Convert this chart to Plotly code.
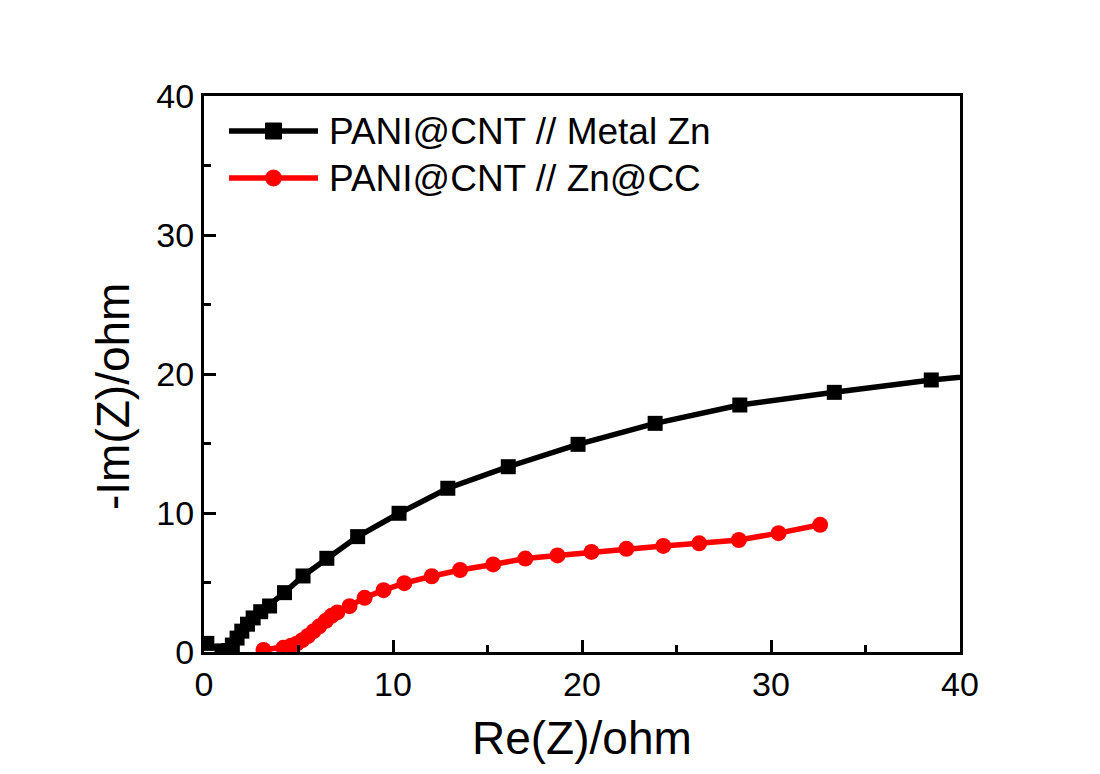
import plotly.graph_objects as go

# ---- data ----
black_name = "PANI@CNT // Metal Zn"
black_x = [0.15, 0.95, 1.3, 1.5, 1.75, 2.0, 2.3, 2.6, 3.0, 3.47, 4.26, 5.24, 6.5, 8.13, 10.32,
           12.9, 16.1, 19.79, 23.87, 28.35, 33.35, 38.48, 43.5]
black_y = [0.62, 0.08, 0.1, 0.5, 1.0, 1.5, 2.0, 2.45, 2.9, 3.31, 4.27, 5.47, 6.74, 8.3, 9.98,
           11.78, 13.33, 14.94, 16.45, 17.77, 18.68, 19.57, 20.2]

red_name = "PANI@CNT // Zn@CC"
red_x = [3.15, 4.2, 4.6, 4.9, 5.2, 5.5, 5.8, 6.1, 6.45, 6.75, 7.05, 7.7, 8.5, 9.5, 10.6,
         12.05, 13.55, 15.3, 17.0, 18.7, 20.5, 22.35, 24.3, 26.2, 28.3, 30.4, 32.6]
red_y = [0.15, 0.3, 0.45, 0.6, 0.85, 1.15, 1.5, 1.85, 2.25, 2.6, 2.85, 3.3, 3.9, 4.45, 4.95,
         5.45, 5.9, 6.3, 6.72, 6.95, 7.2, 7.42, 7.63, 7.82, 8.06, 8.55, 9.15]

x_title = "Re(Z)/ohm"
y_title = "-Im(Z)/ohm"

FONT = "Arial, Liberation Sans, sans-serif"
W, H = 1100, 774
OFF = 8  # page body margin
L, R, T, B = 204 - OFF, 140 + OFF, 96 - OFF, 122 + OFF
PW, PH = W - L - R, H - T - B
LW = 5.5

fig = go.Figure()
fig.add_trace(go.Scatter(x=black_x, y=black_y, mode="lines+markers", name=black_name,
                         line=dict(color="black", width=LW),
                         marker=dict(symbol="square", size=15, color="black")))
fig.add_trace(go.Scatter(x=red_x, y=red_y, mode="lines+markers", name=red_name,
                         line=dict(color="#ff0000", width=LW),
                         marker=dict(symbol="circle", size=16, color="#ff0000")))

axis_common = dict(showline=True, mirror=True, linecolor="black", linewidth=3,
                   ticks="inside", ticklen=12, tickwidth=3, tickcolor="black",
                   showgrid=False, zeroline=False,
                   tickfont=dict(family=FONT, size=34, color="black"),
                   minor=dict(ticks="inside", ticklen=7, tickwidth=3, tickcolor="black", dtick=5))

fig.update_xaxes(range=[0, 40], dtick=10, tick0=0, **axis_common)
fig.update_yaxes(range=[0, 40], dtick=10, tick0=0, **axis_common)

# reference pixel -> paper coordinates
def px_to_paper(px, py):
    return (px - OFF - L) / PW, (H - B - (py - OFF)) / PH

shapes, annotations = [], []

# axis titles
tx, ty = px_to_paper(582, 738)
annotations.append(dict(text=x_title, xref="paper", yref="paper", x=0.5, y=ty,
                        xanchor="center", yanchor="middle", showarrow=False,
                        font=dict(family=FONT, size=46, color="black")))
tx, ty = px_to_paper(113, 397)
annotations.append(dict(text=y_title, xref="paper", yref="paper", x=tx, y=ty, textangle=-90,
                        xanchor="center", yanchor="middle", showarrow=False,
                        font=dict(family=FONT, size=46, color="black")))

# manual legend (long line samples like the original)
rows = [(black_name, "black", "square", 131), (red_name, "#ff0000", "circle", 178)]
for name, col, sym, py in rows:
    x0, y0 = px_to_paper(229, py)
    x1, _ = px_to_paper(318, py)
    shapes.append(dict(type="line", xref="paper", yref="paper", x0=x0, x1=x1, y0=y0, y1=y0,
                       line=dict(color=col, width=LW)))
    cx, cy = px_to_paper(273.5, py)
    hw = 8 / PW
    hh = 8 / PH
    shapes.append(dict(type="rect" if sym == "square" else "circle", xref="paper", yref="paper",
                       x0=cx - hw, x1=cx + hw, y0=cy - hh, y1=cy + hh,
                       fillcolor=col, line=dict(color=col, width=1)))
    tx, ty = px_to_paper(327, py)
    annotations.append(dict(text=name, xref="paper", yref="paper", x=tx, y=ty,
                            xanchor="left", yanchor="middle", showarrow=False,
                            font=dict(family=FONT, size=37, color="black")))

fig.update_layout(width=W, height=H, margin=dict(l=L, r=R, t=T, b=B),
                  paper_bgcolor="white", plot_bgcolor="white", showlegend=False,
                  shapes=shapes, annotations=annotations)

fig.write_html("out.html")
